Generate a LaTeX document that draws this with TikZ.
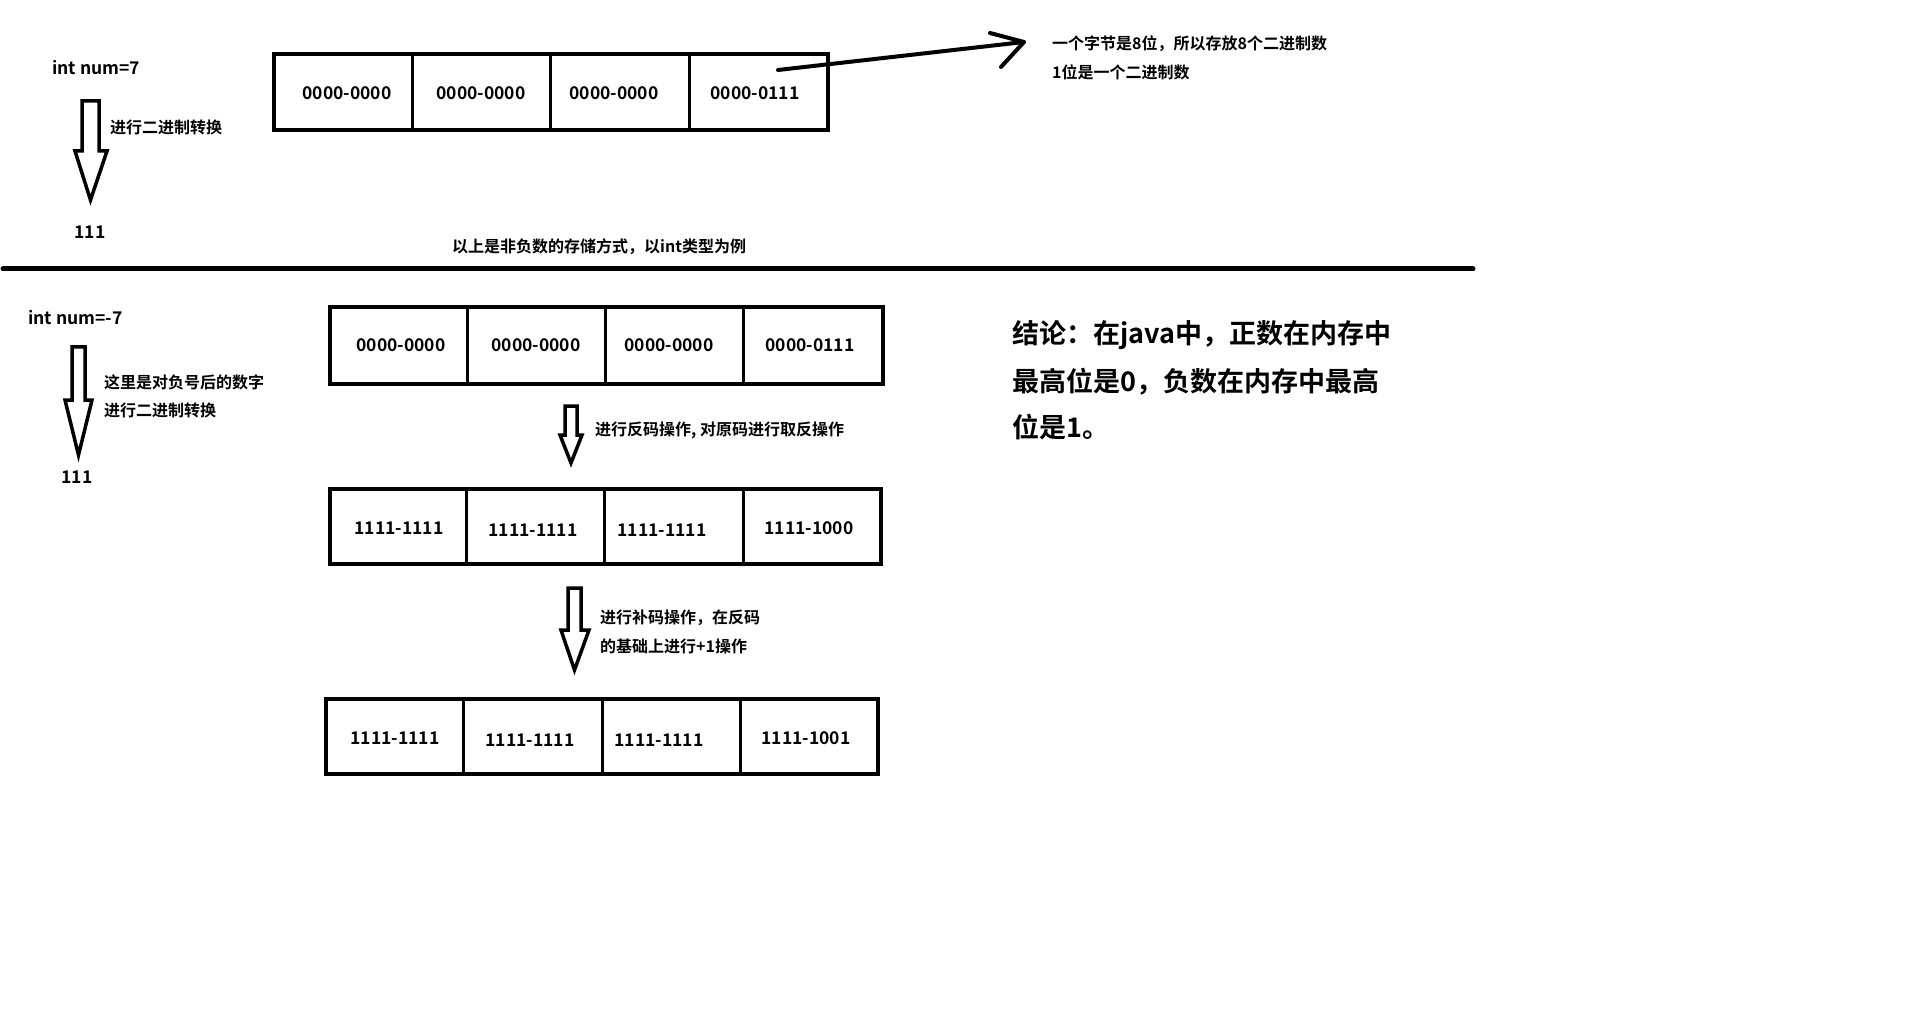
\documentclass[tikz,border=0pt]{standalone}
\usepackage{fontspec}
\setmainfont{Noto Sans CJK SC}[BoldFont={Noto Sans CJK SC Bold}]
\begin{document}
\begin{tikzpicture}[x=1pt,y=-1pt,
  bx/.style={line width=4.5pt},
  dv/.style={line width=3pt},
  harrow/.style={line width=3.5pt,line join=miter},
  num/.style={font=\fontsize{17.5}{20}\selectfont\bfseries,inner sep=0pt},
  lat/.style={font=\fontsize{17.5}{20}\selectfont\bfseries,inner sep=0pt},
  cn/.style={font=\fontsize{16}{18}\selectfont\bfseries,inner sep=0pt,anchor=west},
  big/.style={font=\fontsize{27}{30}\selectfont\bfseries,inner sep=0pt,anchor=west}]
\useasboundingbox (0,0) rectangle (1920,1024);
\fill[white] (0,0) rectangle (1920,1024);

\newcommand\hollowarr[7]{%
  \draw[harrow] (#1,#3) -- (#2,#3) -- (#2,#4) -- (#6,#4) -- ({(#1+#2)/2},#7) -- (#5,#4) -- (#1,#4) -- cycle;}

% ---------- top part ----------
\node[lat,anchor=west] (n7) at (52,68) {int num=7};
\hollowarr{82}{99}{101}{151}{75}{107}{200}
\node[cn] (t1) at (110,127) {进行二进制转换};
\node[lat] (r1) at (90,232) {111};

\draw[bx] (274,54) rectangle (828,130);
\draw[dv] (412,54) -- (412,130) (550,54) -- (550,130) (689,54) -- (689,130);
\node[num] (a1) at (347,93) {0000-0000};
\node[num] (a2) at (481,93) {0000-0000};
\node[num] (a3) at (614,93) {0000-0000};
\node[num] (a4) at (755,93) {0000-0111};

\coordinate (as) at (778,70);
\coordinate (at) at (1024,42);
\coordinate (aw1) at (990,33);
\coordinate (aw2) at (1001,67);
\draw[line width=4pt,line cap=round] (as) -- (at);
\draw[line width=4pt,line cap=round,line join=round] (aw1) -- (at) -- (aw2);
\node[cn] (b1) at (1052,44) {一个字节是8位，所以存放8个二进制数};
\node[cn] (b2) at (1052,72) {1位是一个二进制数};

\node[cn] (sep) at (452,247) {以上是非负数的存储方式，以int类型为例};
\coordinate (s1) at (3,269);
\coordinate (s2) at (1473,269);
\draw[line width=5pt,line cap=round] (s1) -- (s2);

% ---------- bottom part ----------
\node[lat,anchor=west] (m7) at (28,318) {int num=-7};
\hollowarr{72}{85}{347}{400}{65}{92}{455}
\node[cn] (t2) at (104,382) {这里是对负号后的数字};
\node[cn] (t3) at (104,410) {进行二进制转换};
\node[lat] (r2) at (77,477) {111};

\draw[bx] (330,307) rectangle (883,384);
\draw[dv] (467,307) -- (467,384) (605,307) -- (605,384) (743,307) -- (743,384);
\node[num] (c1) at (401,345) {0000-0000};
\node[num] (c2) at (536,345) {0000-0000};
\node[num] (c3) at (669,345) {0000-0000};
\node[num] (c4) at (810,345) {0000-0111};

\hollowarr{565}{577}{406}{435}{560}{582}{463}
\node[cn] (o1) at (595,430) {进行反码操作, 对原码进行取反操作};

\draw[bx] (330,489) rectangle (881,564);
\draw[dv] (466,489) -- (466,564) (604,489) -- (604,564) (743,489) -- (743,564);
\node[num] (d1) at (399,528) {1111-1111};
\node[num] (d2) at (533,530) {1111-1111};
\node[num] (d3) at (662,530) {1111-1111};
\node[num] (d4) at (809,528) {1111-1000};

\hollowarr{568}{581}{588}{630}{561}{589}{670}
\node[cn] (p1) at (600,618) {进行补码操作，在反码};
\node[cn] (p2) at (600,646) {的基础上进行+1操作};

\draw[bx] (326,699) rectangle (878,774);
\draw[dv] (463,699) -- (463,774) (602,699) -- (602,774) (740,699) -- (740,774);
\node[num] (e1) at (395,738) {1111-1111};
\node[num] (e2) at (530,740) {1111-1111};
\node[num] (e3) at (659,740) {1111-1111};
\node[num] (e4) at (806,738) {1111-1001};

% ---------- conclusion ----------
\node[big] (k1) at (1012,335) {结论：在java中，正数在内存中};
\node[big] (k2) at (1012,382) {最高位是0，负数在内存中最高};
\node[big] (k3) at (1012,427) {位是1。};
\end{tikzpicture}
\end{document}
